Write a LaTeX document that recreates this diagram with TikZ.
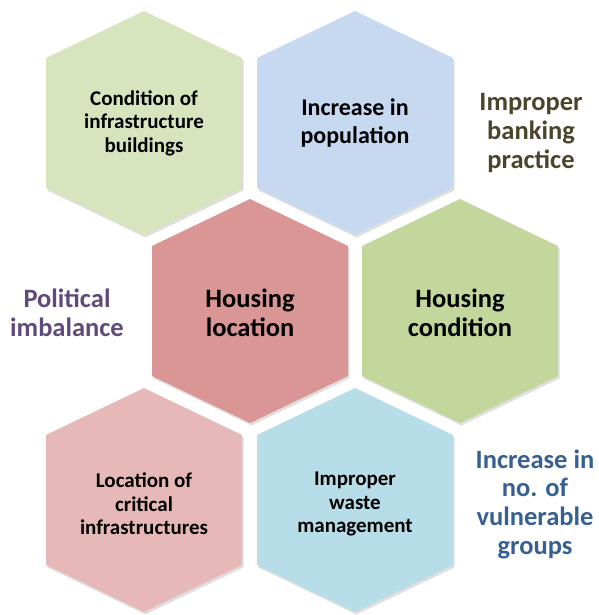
\documentclass[tikz,border=0pt]{standalone}
\usepackage{fontspec}
\setmainfont{Carlito}
\usetikzlibrary{shadows}

\definecolor{hexgreenl}{HTML}{D7E4BD}
\definecolor{hexbluel}{HTML}{C6D9F1}
\definecolor{hexred}{HTML}{D99694}
\definecolor{hexgreen}{HTML}{C3D69B}
\definecolor{hexpink}{HTML}{E6B9B8}
\definecolor{hexcyan}{HTML}{B7DEE8}
\definecolor{txtolive}{HTML}{4A452A}
\definecolor{txtpurple}{HTML}{604A7B}
\definecolor{txtblue}{HTML}{376092}

\tikzset{
  hexcell/.style={drop shadow={opacity=0.25, shadow xshift=1.5pt, shadow yshift=-2.5pt}},
  smalltxt/.style={align=center, font=\fontsize{21}{23.5}\selectfont\bfseries},
  midtxt/.style={align=center, font=\fontsize{24}{28}\selectfont\bfseries},
  bigtxt/.style={align=center, font=\fontsize{26.5}{29}\selectfont\bfseries},
  sidetxt/.style={align=center, font=\fontsize{26.5}{28.7}\selectfont\bfseries}
}

% hexagon with pointed top, centre #1, colour #2
\newcommand{\hexagon}[2]{%
  \fill[#2, hexcell, shift={(#1)}] (0,112) -- (98,65) -- (98,-65) -- (0,-112)
    -- (-98,-65) -- (-98,65) -- cycle;}

\begin{document}
\begin{tikzpicture}[x=1pt, y=1pt]
    \useasboundingbox (0,0) rectangle (598,615);

    \hexagon{144,492}{hexgreenl}
    \hexagon{355,492}{hexbluel}
    \hexagon{250,304}{hexred}
    \hexagon{460,304}{hexgreen}
    \hexagon{144,115}{hexpink}
    \hexagon{355,115}{hexcyan}

    \node[smalltxt] (infra) at (144,492) {Condition of\\infrastructure\\buildings};
    \node[midtxt] (popul) at (355,492) {Increase in\\population};
    \node[bigtxt] (hloc) at (250,302) {Housing\\location};
    \node[bigtxt] (hcond) at (460,302) {Housing\\condition};
    \node[smalltxt] (critical) at (144,111) {Location of\\critical\\infrastructures};
    \node[smalltxt] (waste) at (355,111) {Improper\\waste\\management};

    \node[sidetxt, text=txtolive] (banking) at (531,482) {Improper\\banking\\practice};
    \node[sidetxt, text=txtpurple] (politic) at (67,302) {Political\\imbalance};
    \node[sidetxt, text=txtblue] (vulner) at (535,111) {Increase in\\no. of\\vulnerable\\groups};
\end{tikzpicture}
\end{document}
